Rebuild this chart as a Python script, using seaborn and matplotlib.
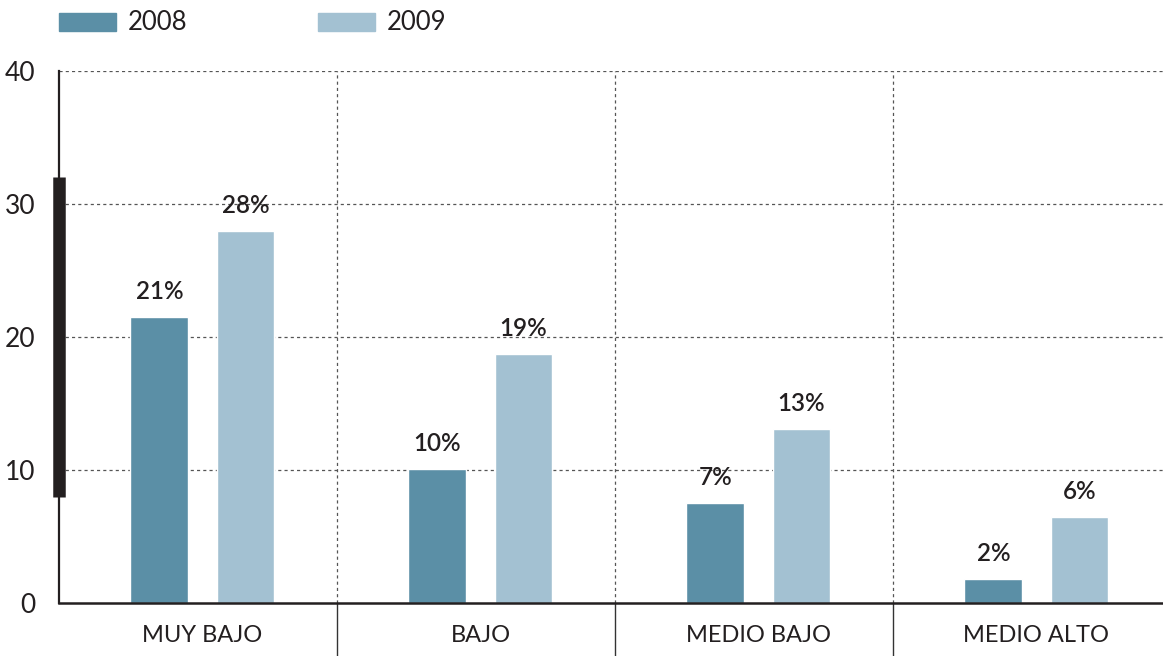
import numpy as np
import pandas as pd
import seaborn as sns
import matplotlib.pyplot as plt
from matplotlib.patches import Patch
import matplotlib.transforms as mtransforms

# data
niveles = ['MUY BAJO', 'BAJO', 'MEDIO BAJO', 'MEDIO ALTO']
anios = ['2008', '2009']
val_2008 = [21.5, 10.1, 7.5, 1.8]
val_2009 = [28.0, 18.7, 13.1, 6.5]
lab_2008 = ['21%', '10%', '7%', '2%']
lab_2009 = ['28%', '19%', '13%', '6%']
yticks = [0, 10, 20, 30, 40]

dark = '#5b8fa6'
light = '#a3c1d2'
ink = '#231f20'

df = pd.DataFrame({
    'nivel': niveles * 2,
    'anio': ['2008'] * 4 + ['2009'] * 4,
    'valor': val_2008 + val_2009,
})

sns.set_style('white')
plt.rcParams['font.family'] = ['Lato', 'DejaVu Sans']

W, H = 1163, 656
fig = plt.figure(figsize=(W / 100, H / 100), dpi=100)
ax = fig.add_axes([59 / W, (H - 603) / H, (W - 59) / W, (603 - 71) / H])

sns.barplot(data=df, x='nivel', y='valor', hue='anio', hue_order=anios,
            palette=[dark, light], saturation=1, width=0.62, gap=0.33,
            legend=False, ax=ax, zorder=3)

# shift the view so each pair sits a bit right of centre, like the original
shift = 0.016
ax.set_xlim(-0.5 - shift, -0.5 - shift + (W - 59) / 278)
ax.set_ylim(0, 40)

# value labels
for cont, labs in zip(ax.containers, [lab_2008, lab_2009]):
    ax.bar_label(cont, labels=labs, padding=10, fontsize=17.5, color=ink,
                 fontweight='semibold')

# dotted horizontal grid
for y in yticks[1:]:
    ax.axhline(y, color='#555555', lw=0.9, ls=(0, (2.5, 2.5)), zorder=1)

# category separators: dotted inside, solid under the axis
trans = mtransforms.blended_transform_factory(ax.transData, ax.transAxes)
for i in range(len(niveles) - 1):
    xs = i + 0.5 - shift
    ax.plot([xs, xs], [0, 1], transform=trans, color='#555555', lw=0.9,
            ls=(0, (2.5, 2.5)), zorder=1)
    ax.plot([xs, xs], [0, -53 / 532], transform=trans, color='#333333',
            lw=1.0, clip_on=False)

# thick bar on the y axis
ax.plot([0, 0], [8, 32], transform=mtransforms.blended_transform_factory(ax.transAxes, ax.transData),
        color=ink, lw=9, solid_capstyle='butt', clip_on=False, zorder=5)

for s in ['top', 'right']:
    ax.spines[s].set_visible(False)
ax.spines['left'].set_color(ink)
ax.spines['left'].set_linewidth(1.6)
ax.spines['bottom'].set_color(ink)
ax.spines['bottom'].set_linewidth(1.8)
ax.spines['bottom'].set_zorder(4)

ax.set_yticks(yticks)
ax.set_yticklabels([str(t) for t in yticks], fontsize=19, color=ink)
ax.tick_params(axis='y', length=0, pad=17)
ax.tick_params(axis='x', length=0, pad=16, labelsize=17, labelcolor=ink)
ax.set_xlabel('')
ax.set_ylabel('')

handles = [Patch(color=dark, label='2008'), Patch(color=light, label='2009')]
fig.legend(handles=handles, loc='center left', bbox_to_anchor=(59 / W, 1 - 23 / H),
           ncol=2, frameon=False, fontsize=18.5, handlelength=2.22, handleheight=0.7,
           handletextpad=0.47, columnspacing=5.06, borderpad=0, borderaxespad=0,
           labelcolor=ink)

fig.savefig('out.png', dpi=100)
